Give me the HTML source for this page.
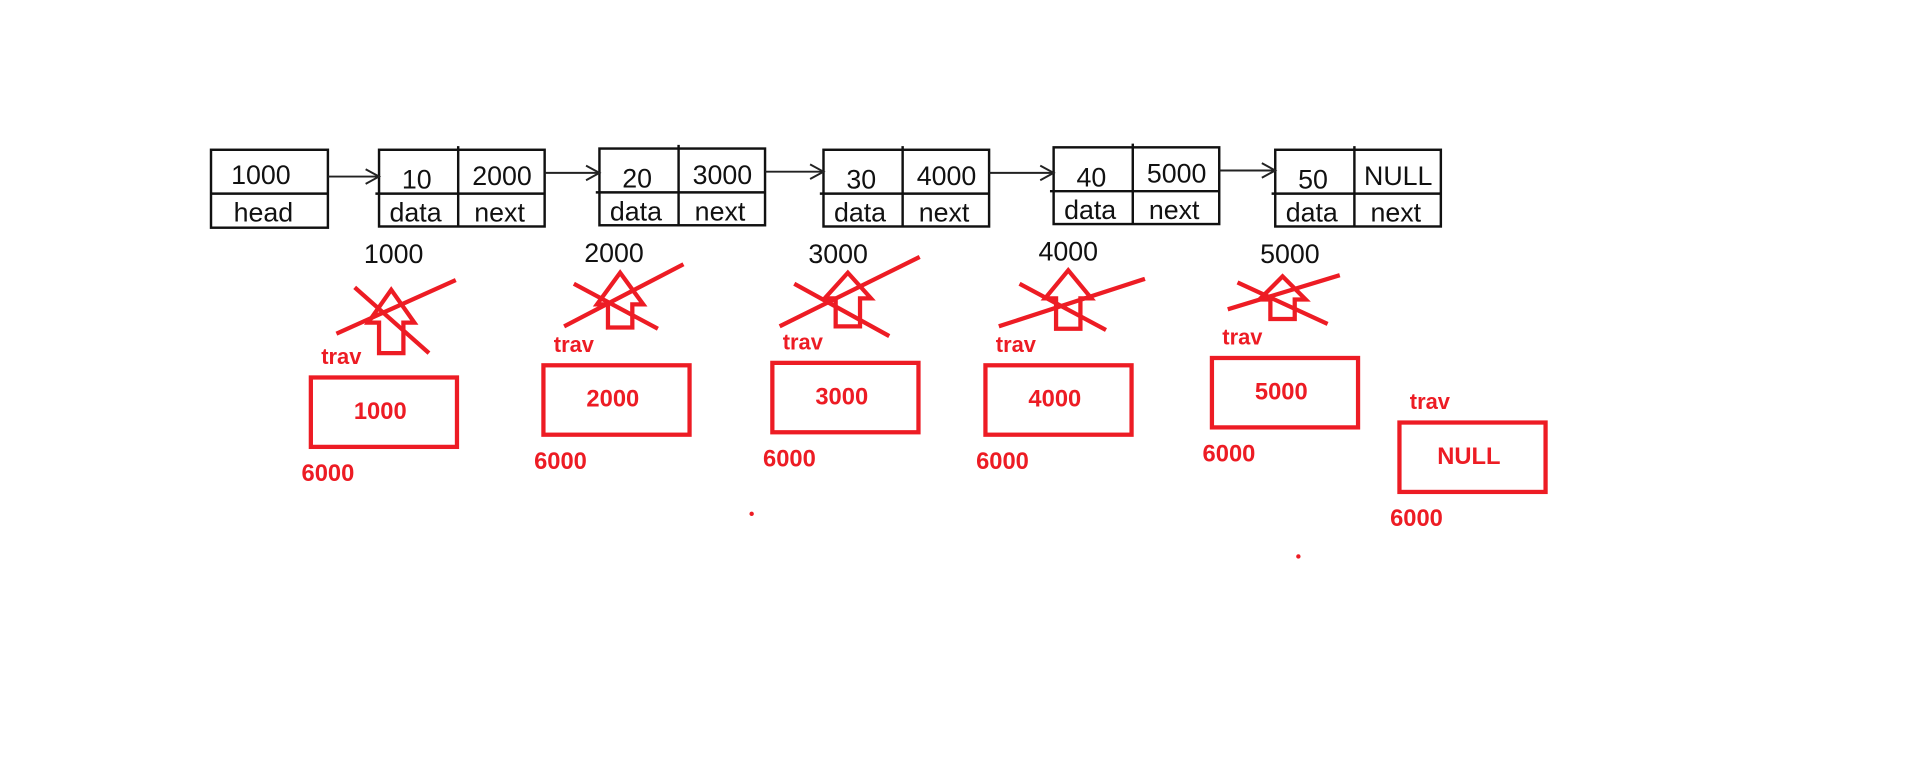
<!DOCTYPE html>
<html><head><meta charset="utf-8"><style>
html,body{margin:0;padding:0;background:#fff;width:1910px;height:772px;overflow:hidden}
svg{display:block}
.bk{font-family:"Liberation Sans","DejaVu Sans",sans-serif;font-size:22px;fill:#111}
.rd{font-family:"Liberation Sans",sans-serif;font-weight:bold;fill:#ed1c24}
</style></head><body>
<svg id="svg" width="1910" height="772" viewBox="0 0 1568 634">
<g id="g"></g>
</svg>
<script>
const nodeData=["10","20","30","40","50"];
const nodeNext=["2000","3000","4000","5000","NULL"];
const nodeAddr=["1000","2000","3000","4000","5000"];
const travVals=["1000","2000","3000","4000","5000","NULL"];
const nodeX=[311,492,676,865,1047], nodeY=[123,122,123,121,123];
const boxX=[255,446,634,809,995,1149], boxY=[310,300,298,300,294,347];
const arrowC=[321,509,696,877,1053], arrowTip=[238,224,224,222,227], arrowBase=[265,250,245,245,246], arrowBot=[290,269,268,270,262];
const crossA=[[291,236,352,290],[471,233,540,270],[652,233,730,276],[837,233,908,271],[1016,232,1090,266]];
const crossB=[[276,274,374,230],[463,268,561,217],[640,268,755,211],[820,268,940,229],[1008,254,1100,226]];
const NS="http://www.w3.org/2000/svg", g=document.getElementById('g');
function el(t,a,txt){const e=document.createElementNS(NS,t);for(const k in a)e.setAttribute(k,a[k]);if(txt!=null)e.textContent=txt;g.appendChild(e);return e;}
const R="#ed1c24";
let e=el('rect',{x:173,y:123,width:96,height:64,fill:'none',stroke:'#111','stroke-width':2});


el('line',{x1:173,y1:159,x2:269,y2:159,stroke:'#111','stroke-width':2});
e=el('text',{x:214,y:151,class:'bk','text-anchor':'middle'},'1000');


el('text',{x:216,y:182,class:'bk','text-anchor':'middle'},'head');
nodeData.forEach((d,i)=>{
 const x=nodeX[i],y=nodeY[i];
 e=el('rect',{x:x,y:y,width:136,height:63,fill:'none',stroke:'#111','stroke-width':2});
 
 
 el('line',{x1:x+65,y1:y-3,x2:x+65,y2:y+63,stroke:'#111','stroke-width':2});
 el('line',{x1:x-3,y1:y+36,x2:x+136,y2:y+36,stroke:'#111','stroke-width':2});
 el('text',{x:x+31,y:y+32,class:'bk','text-anchor':'middle'},d);
 el('text',{x:x+101,y:y+29,class:'bk','text-anchor':'middle'},nodeNext[i]);
 el('text',{x:x+30,y:y+59,class:'bk','text-anchor':'middle'},'data');
 el('text',{x:x+99,y:y+59,class:'bk','text-anchor':'middle'},'next');
 e=el('text',{x:x+12,y:y+93,class:'bk','text-anchor':'middle'},nodeAddr[i]);
 
 
 const fx=i==0?269:nodeX[i-1]+136, fy=i==0?145:nodeY[i-1]+19;
 el('line',{x1:fx,y1:fy,x2:x,y2:fy,stroke:'#222','stroke-width':1.6});
 el('polyline',{points:`${x-11},${fy-6} ${x},${fy} ${x-11},${fy+6}`,fill:'none',stroke:'#222','stroke-width':1.6});
 const c=arrowC[i],t=arrowTip[i],b=arrowBase[i],bt=arrowBot[i];
 e=el('polygon',{points:`${c},${t} ${c+19},${b} ${c+10},${b} ${c+10},${bt} ${c-10},${bt} ${c-10},${b} ${c-19},${b}`,fill:'none',stroke:R,'stroke-width':3.5});
 
 
 const a=crossA[i],bb=crossB[i];
 el('line',{x1:a[0],y1:a[1],x2:a[2],y2:a[3],stroke:R,'stroke-width':3.5});
 el('line',{x1:bb[0],y1:bb[1],x2:bb[2],y2:bb[3],stroke:R,'stroke-width':3.5});
});
travVals.forEach((v,i)=>{
 const x=boxX[i],y=boxY[i];
 e=el('rect',{x:x,y:y,width:120,height:57,fill:'none',stroke:R,'stroke-width':3.5});
 
 
 el('text',{x:x+57,y:y+34,class:'rd','font-size':19.5,'text-anchor':'middle'},v);
 el('text',{x:x+25,y:y-11,class:'rd','font-size':18,'text-anchor':'middle'},'trav');
 el('text',{x:x+14,y:y+85,class:'rd','font-size':19.5,'text-anchor':'middle'},'6000');
});
el('circle',{cx:617,cy:422,r:1.8,fill:R});
el('circle',{cx:1066,cy:457,r:1.8,fill:R});
</script>
</body></html>
